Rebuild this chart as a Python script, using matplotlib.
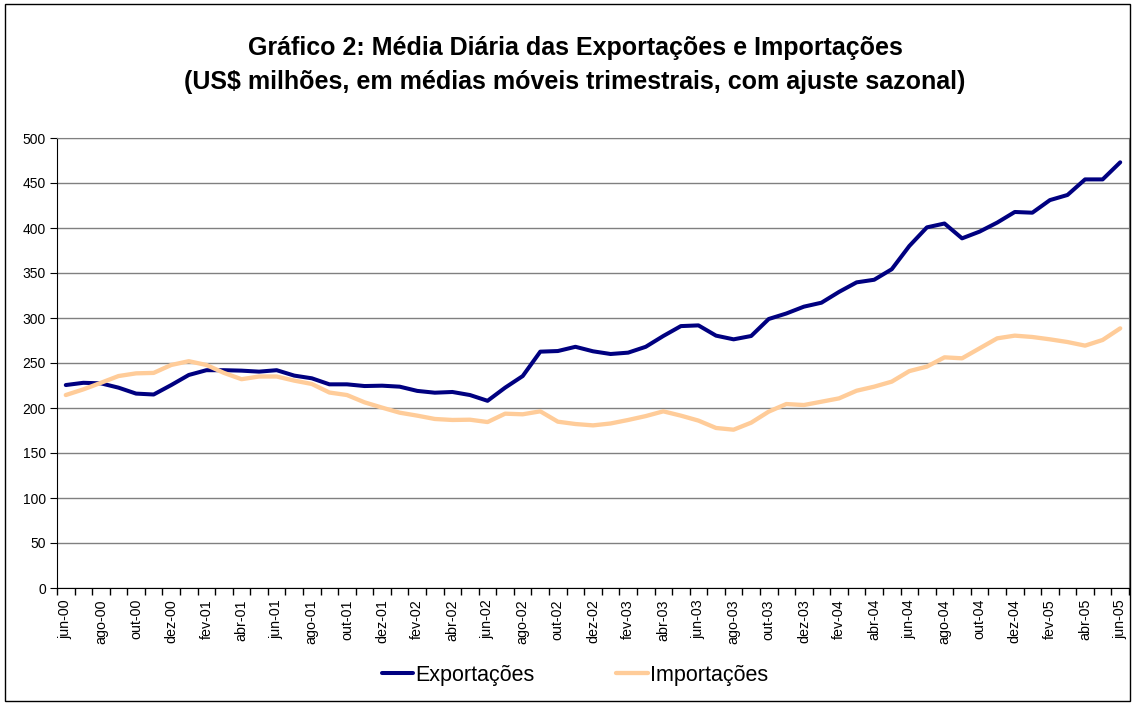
import numpy as np
import matplotlib
matplotlib.use("Agg")
import matplotlib.pyplot as plt
from matplotlib.patches import Rectangle

plt.rcParams["font.family"] = ["Liberation Sans", "DejaVu Sans"]

meses = ["jun", "jul", "ago", "set", "out", "nov", "dez", "jan", "fev", "mar", "abr", "mai"]
labels = []
for k in range(61):
    ano = 2000 + (5 + k) // 12
    labels.append(f"{meses[k % 12]}-{ano % 100:02d}")

exportacoes = [225.5, 228, 227.4, 222.6, 216, 215, 225.5, 236.7, 242, 242,
               241.5, 240.4, 242, 236, 233, 226.3, 226.3, 224.4, 224.8, 223.7,
               219, 217, 217.8, 214.4, 208, 222.6, 235.5, 262.6, 263.3, 268,
               263, 260, 261.5, 268, 280, 291, 291.8, 280.4, 276.3, 280,
               298.9, 305, 312.6, 317, 329, 339.6, 342.5, 354.2, 380, 400.7,
               405, 388.5, 396, 406, 417.8, 417, 431, 436.7, 454, 454, 473]
importacoes = [214.4, 220.7, 228, 235.5, 238.5, 239, 247.8, 252, 247.8, 239,
               232, 235, 235, 230.4, 226.7, 217.2, 214.4, 206.3, 200.4, 194.8,
               191.5, 187.8, 186.7, 187, 184.4, 193.7, 193, 196.3, 184.8, 182.2,
               180.7, 182.8, 186.7, 191, 196.3, 191.5, 186, 177.8, 175.9, 183.7,
               196, 204.4, 203.3, 207, 210.7, 219.2, 223.7, 229.3, 241, 246,
               256.3, 255.2, 266.3, 277.4, 280.4, 278.9, 276.3, 273.3, 269.3, 275.6, 288.5]

W, H = 1135, 704
fig = plt.figure(figsize=(W / 100, H / 100), dpi=100)
fig.patches.append(Rectangle((5 / W, 3 / H), 1125 / W, 697 / H, transform=fig.transFigure,
                             fill=False, edgecolor="black", linewidth=1))

ax = fig.add_axes([57 / W, 1 - 588 / H, (1129 - 57) / W, (588 - 138) / H])
x = np.arange(len(exportacoes))
ax.plot(x, exportacoes, color="#000080", linewidth=2.9, label="Exportações", solid_capstyle="round")
ax.plot(x, importacoes, color="#FFCC99", linewidth=3.1, label="Importações", solid_capstyle="round")

ax.set_xlim(-0.5, len(x) - 0.5)
ax.set_ylim(0, 500)
ax.set_yticks(np.arange(0, 501, 50))
ax.yaxis.grid(True, color="#808080", linewidth=1)
ax.set_axisbelow(True)
ax.set_xticks(x[::2])
ax.set_xticklabels(labels[::2], rotation=90, fontsize=10.3)
ax.set_xticks(np.arange(-0.5, len(x), 1), minor=True)
ax.tick_params(axis="x", which="major", length=0, pad=8)
ax.tick_params(axis="x", which="minor", length=5, direction="out", width=1)
ax.tick_params(axis="y", length=5, direction="out", labelsize=10, pad=3)
for s in ["top", "right"]:
    ax.spines[s].set_color("#808080")
for s in ["left", "bottom"]:
    ax.spines[s].set_color("black")

fig.text(575 / W, 1 - 48 / H, "Gráfico 2: Média Diária das Exportações e Importações",
         ha="center", va="center", fontsize=18, fontweight="bold")
fig.text(575 / W, 1 - 82 / H, "(US$ milhões, em médias móveis trimestrais, com ajuste sazonal)",
         ha="center", va="center", fontsize=18, fontweight="bold")

fig.legend(loc="center", bbox_to_anchor=(575 / W, 1 - 675 / H), ncol=2, frameon=False,
           fontsize=15.5, handlelength=1.45, handletextpad=0.1, columnspacing=3.8)

fig.savefig("out.png", dpi=100)
